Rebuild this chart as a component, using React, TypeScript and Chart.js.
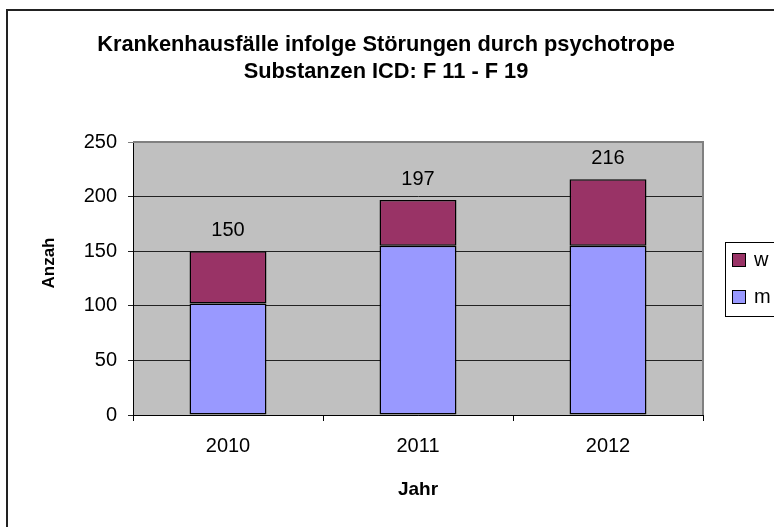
import React, { useEffect, useRef } from "react";
import { Chart, registerables } from "chart.js";

Chart.register(...registerables);

const years = ["2010", "2011", "2012"];
const maleValues = [102, 155, 155];
const femaleValues = [48, 42, 61];
const titleLines = ["Krankenhausfälle infolge Störungen durch psychotrope", "Substanzen ICD: F 11 - F 19"];
const yTitle = "Anzah";
const xTitle = "Jahr";
const yMin = 0;
const yMax = 250;
const yStep = 50;

const FONT = "'Liberation Sans', Arial, sans-serif";

const decorPlugin = {
  id: "decor",
  beforeDraw(chart: any) {
    const { ctx, chartArea } = chart;
    ctx.save();
    ctx.fillStyle = "#ffffff";
    ctx.fillRect(0, 0, chart.width, chart.height);
    ctx.fillStyle = "#C0C0C0";
    ctx.fillRect(chartArea.left, chartArea.top, chartArea.right - chartArea.left, chartArea.bottom - chartArea.top);
    ctx.restore();
  },
  beforeDatasetsDraw(chart: any) {
    const { ctx, chartArea } = chart;
    ctx.save();
    ctx.strokeStyle = "#808080";
    ctx.lineWidth = 2;
    ctx.beginPath();
    ctx.moveTo(chartArea.left, chartArea.top);
    ctx.lineTo(chartArea.right, chartArea.top);
    ctx.lineTo(chartArea.right, chartArea.bottom);
    ctx.stroke();
    ctx.restore();
  },
  afterDraw(chart: any) {
    const { ctx, chartArea } = chart;
    ctx.save();
    // outer border
    ctx.strokeStyle = "#222";
    ctx.lineWidth = 2;
    ctx.strokeRect(7, 10, 800, 560);

    // title
    ctx.fillStyle = "#000";
    ctx.font = `bold 21.8px ${FONT}`;
    ctx.textAlign = "center";
    ctx.textBaseline = "middle";
    titleLines.forEach((line, i) => ctx.fillText(line, 386, 45 + i * 27));

    // totals above bars
    const n = chart.data.datasets.length;
    const topMeta = chart.getDatasetMeta(n - 1);
    ctx.font = `20px ${FONT}`;
    ctx.textBaseline = "alphabetic";
    topMeta.data.forEach((el: any, i: number) => {
      let total = 0;
      chart.data.datasets.forEach((ds: any) => (total += ds.data[i]));
      ctx.fillText(String(total), el.x, el.y - 15);
    });

    // axis titles
    ctx.textBaseline = "middle";
    ctx.font = `bold 19px ${FONT}`;
    ctx.fillText(xTitle, (chartArea.left + chartArea.right) / 2, 490);
    ctx.font = `bold 17px ${FONT}`;
    ctx.save();
    ctx.translate(49, 263);
    ctx.rotate(-Math.PI / 2);
    ctx.fillText(yTitle, 0, 0);
    ctx.restore();

    // legend
    ctx.fillStyle = "#fff";
    ctx.fillRect(725, 242, 100, 74);
    ctx.strokeStyle = "#000";
    ctx.lineWidth = 1;
    ctx.strokeRect(725.5, 242.5, 100, 74);
    const items = chart.data.datasets.slice().reverse();
    ctx.font = `20px ${FONT}`;
    ctx.textAlign = "left";
    ctx.textBaseline = "alphabetic";
    items.forEach((ds: any, i: number) => {
      const cy = 260 + i * 37;
      ctx.fillStyle = ds.backgroundColor;
      ctx.fillRect(732, cy - 7, 13, 13);
      ctx.strokeStyle = "#000";
      ctx.lineWidth = 1;
      ctx.strokeRect(732.5, cy - 6.5, 13, 13);
      ctx.fillStyle = "#000";
      ctx.fillText(ds.label, 754, cy + 6);
    });
    ctx.restore();
  },
};

export default function App() {
  const ref = useRef<HTMLCanvasElement | null>(null);
  useEffect(() => {
    document.body.style.margin = "0";
    if (!ref.current) return;
    const chart = new Chart(ref.current, {
      type: "bar",
      data: {
        labels: years,
        datasets: [
          {
            label: "m",
            data: maleValues,
            backgroundColor: "#9999FF",
            borderColor: "#000",
            borderWidth: 1.5,
            borderSkipped: false,
            barPercentage: 0.405,
            categoryPercentage: 1,
          },
          {
            label: "w",
            data: femaleValues,
            backgroundColor: "#993366",
            borderColor: "#000",
            borderWidth: 1.5,
            borderSkipped: false,
            barPercentage: 0.405,
            categoryPercentage: 1,
          },
        ],
      },
      options: {
        responsive: false,
        animation: false,
        layout: { padding: { left: 0, right: 71, top: 142, bottom: 0 } },
        plugins: {
          legend: { display: false },
          tooltip: { enabled: false },
          title: { display: false },
        },
        scales: {
          x: {
            stacked: true,
            offset: true,
            afterFit(scale: any) {
              scale.height = 112;
            },
            grid: {
              display: true,
              offset: true,
              drawOnChartArea: false,
              drawTicks: true,
              tickLength: 6,
              color: "#000",
            },
            border: { display: true, color: "#000", width: 1 },
            ticks: { color: "#000", font: { family: FONT, size: 20 }, padding: 13 },
          },
          y: {
            stacked: true,
            min: yMin,
            max: yMax,
            afterFit(scale: any) {
              scale.width = 133;
            },
            grid: {
              color: (c: any) => (c.tick && c.tick.value === yMax ? "#808080" : "#222"),
              lineWidth: 1,
              tickLength: 5,
            },
            border: { display: true, color: "#000", width: 1 },
            ticks: { stepSize: yStep, color: "#000", font: { family: FONT, size: 20 }, padding: 11 },
          },
        },
      },
      plugins: [decorPlugin],
    });
    return () => chart.destroy();
  }, []);
  return <canvas ref={ref} width={774} height={527} style={{ display: "block", width: 774, height: 527 }} />;
}
